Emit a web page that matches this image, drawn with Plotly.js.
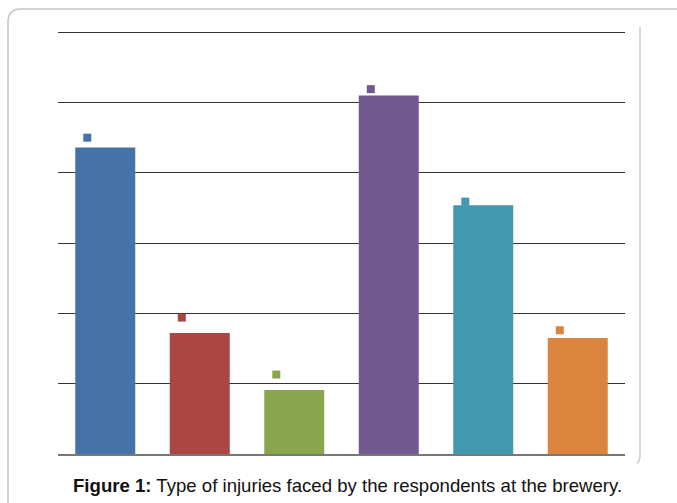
<!DOCTYPE html>
<html>
<head>
<meta charset="utf-8">
<script src="https://cdn.plot.ly/plotly-3.0.1.min.js"></script>
<style>html,body{margin:0;padding:0;background:#fff;}#chart{width:677px;height:503px;}</style>
</head>
<body>
<div id="chart"></div>
<script>
// Data
const categories = ["Injury 1", "Injury 2", "Injury 3", "Injury 4", "Injury 5", "Injury 6"];
const values = [21.8, 8.6, 4.55, 25.5, 17.7, 8.25];
const labelMarkY = [22.5, 9.7, 5.65, 25.95, 17.95, 8.8];
const barColors = ["#4573a7", "#aa4644", "#89a54e", "#71588f", "#4298af", "#db843d"];
const yTicks = [0, 5, 10, 15, 20, 25, 30];
const caption = "<b>Figure 1:</b> Type of injuries faced by the respondents at the brewery.";

const idx = categories.map((_, i) => i);
const markOffset = -0.19;

const bars = {
  type: "bar",
  x: idx,
  y: values,
  hovertext: categories,
  hoverinfo: "text+y",
  textposition: "none",
  marker: { color: barColors },
  width: 0.635,
  showlegend: false
};
const marks = {
  type: "scatter",
  mode: "markers",
  x: idx.map(i => i + markOffset),
  y: labelMarkY,
  marker: { symbol: "square", size: 8, color: barColors },
  hoverinfo: "skip",
  showlegend: false
};

// frame geometry (paper units)
const W = 567, H = 426, L = 58, B = 454;
const px = v => (v - L) / W;
const py = v => (B - v) / H;

const layout = {
  width: 677, height: 503,
  margin: { l: 58, r: 52, t: 28, b: 49 },
  paper_bgcolor: "#fff", plot_bgcolor: "#fff",
  xaxis: {
    range: [-0.5, 5.5], showticklabels: false, showgrid: false, zeroline: false,
    ticks: "", showline: true, linecolor: "#777", linewidth: 1.5, fixedrange: true
  },
  yaxis: {
    range: [0, 30.3], tickvals: yTicks, showticklabels: false, showgrid: true,
    gridcolor: "#333", gridwidth: 1, zeroline: false, ticks: "", showline: false, fixedrange: true
  },
  font: { family: "Liberation Sans, Arial, sans-serif", color: "#111" },
  annotations: [{
    text: caption, xref: "paper", yref: "paper",
    x: px(347), y: py(485), xanchor: "center", yanchor: "middle",
    showarrow: false, font: { size: 18.6, color: "#111", family: "Liberation Sans, Arial, sans-serif" }
  }],
  shapes: [
    {
      type: "path", xref: "paper", yref: "paper",
      path: `M ${px(8)},${py(510)} L ${px(8)},${py(22)} Q ${px(8)},${py(9)} ${px(21)},${py(9)} L ${px(690)},${py(9)}`,
      line: { color: "#c4c4c4", width: 1.5 }
    },
    {
      type: "path", xref: "paper", yref: "paper",
      path: `M ${px(640)},${py(27)} L ${px(640)},${py(456)} Q ${px(640)},${py(461)} ${px(637)},${py(463)}`,
      line: { color: "#c4c4c4", width: 1.3 }
    }
  ]
};

Plotly.newPlot("chart", [bars, marks], layout, { displayModeBar: false, staticPlot: true });
</script>
</body>
</html>
